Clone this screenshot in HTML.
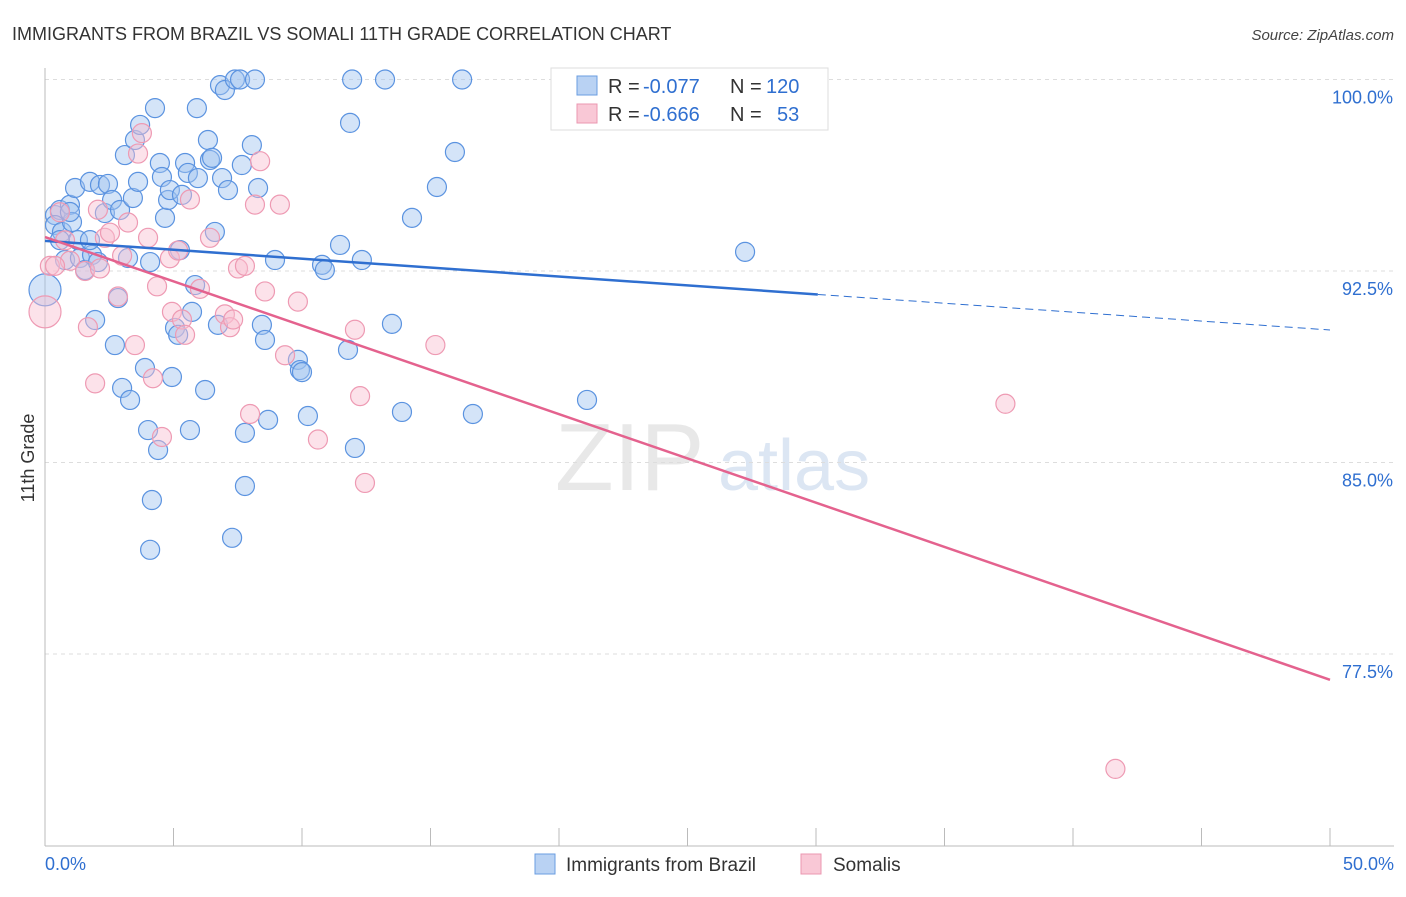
<!DOCTYPE html>
<html><head><meta charset="utf-8"><style>
body{margin:0;background:#fff;font-family:"Liberation Sans",sans-serif}
svg text{font-family:"Liberation Sans",sans-serif}
</style></head><body>
<svg id="chart" width="1406" height="892" viewBox="0 0 1406 892" xmlns="http://www.w3.org/2000/svg">
<text x="12" y="40" font-size="18" fill="#333">IMMIGRANTS FROM BRAZIL VS SOMALI 11TH GRADE CORRELATION CHART</text>
<text x="1394" y="40" font-size="15" fill="#444" text-anchor="end" font-style="italic">Source: ZipAtlas.com</text>
<text x="555" y="490" font-size="96" fill="#e8e8e8" font-family="Liberation Serif">ZIP</text>
<text x="718" y="490" font-size="72" fill="#dce6f3">atlas</text>
<g id="grid"></g><g id="axes"></g><g id="pts"></g><g id="lines"></g>
<text transform="translate(34,458) rotate(-90)" font-size="18" fill="#333" text-anchor="middle">11th Grade</text>
<g>
<rect x="551" y="68" width="277" height="62" fill="#fff" stroke="#ddd"/>
<rect x="577" y="76" width="20" height="19" fill="#b9d2f3" stroke="#6a9de0"/>
<rect x="577" y="104" width="20" height="19" fill="#f9c8d6" stroke="#eb97b0"/>
<text x="608" y="93" font-size="20" fill="#333">R =</text>
<text x="643" y="93" font-size="20" fill="#2f6fd0">-0.077</text>
<text x="730" y="93" font-size="20" fill="#333">N =</text>
<text x="766" y="93" font-size="20" fill="#2f6fd0">120</text>
<text x="608" y="121" font-size="20" fill="#333">R =</text>
<text x="643" y="121" font-size="20" fill="#2f6fd0">-0.666</text>
<text x="730" y="121" font-size="20" fill="#333">N =</text>
<text x="777" y="121" font-size="20" fill="#2f6fd0">53</text>
</g>
<g>
<rect x="535" y="854" width="20" height="20" fill="#b9d2f3" stroke="#6a9de0"/>
<text x="566" y="871" font-size="19" fill="#333">Immigrants from Brazil</text>
<rect x="801" y="854" width="20" height="20" fill="#f9c8d6" stroke="#eb97b0"/>
<text x="833" y="871" font-size="19" fill="#333">Somalis</text>
</g>
</svg>
<script>
const yTicks=[100,92.5,85,77.5];
const yTickLabels=["100.0%","92.5%","85.0%","77.5%"];
const xTickLabels=["0.0%","50.0%"];
const blueX=[0,0.39,0.58,0.39,0.66,0.97,0.78,1.17,1.05,1.28,1.36,1.56,1.75,1.83,1.95,2.14,2.06,2.33,2.45,2.61,2.72,2.84,2.92,3.00,3.11,3.23,3.31,3.42,3.50,3.62,3.70,3.89,4.01,4.09,4.16,4.09,4.28,4.40,4.47,4.55,4.67,4.79,4.86,4.94,5.06,5.18,5.25,5.33,5.45,5.56,5.64,5.72,5.84,5.91,5.95,6.23,6.34,6.42,6.50,6.61,6.73,6.81,7.00,6.89,7.12,7.28,7.39,7.59,7.66,7.78,7.78,8.05,8.17,8.29,8.44,8.56,8.68,8.95,9.84,9.92,10.00,10.23,10.78,10.89,11.48,11.79,11.95,11.87,12.06,12.33,13.23,13.50,13.89,14.28,15.25,15.95,16.23,16.65,21.09,27.24,1.75,0.58,0.97];
const blueY=[91.76,94.69,94.89,94.30,94.03,95.09,92.93,95.75,94.42,93.71,93.01,92.54,95.99,93.13,90.58,95.87,92.85,94.77,95.91,95.28,89.60,91.44,94.89,87.92,97.04,93.01,87.45,95.36,97.63,95.99,98.22,88.70,86.27,92.85,83.53,81.58,98.88,85.49,96.73,96.18,94.58,95.28,95.67,88.35,90.27,90.00,93.32,95.48,96.73,96.34,86.27,90.90,91.95,98.88,96.14,87.84,97.63,96.85,96.93,94.03,90.39,99.78,99.59,96.14,95.67,82.05,100,100,96.65,86.16,84.08,97.43,100,95.75,90.39,89.80,86.67,92.93,89.02,88.62,88.54,86.82,92.74,92.54,93.52,89.41,100,98.30,85.57,92.93,100,90.43,86.98,94.58,95.79,97.16,100,86.90,87.45,93.25,93.71,93.71,94.81];
const pinkX=[0,0.19,0.58,0.78,0.97,1.56,1.67,1.95,2.06,2.33,2.53,2.84,3.0,3.23,3.50,3.62,3.77,4.01,4.20,4.36,4.55,4.86,4.94,5.18,5.33,5.45,5.64,6.03,6.42,7.0,7.20,7.32,7.51,7.78,7.98,8.17,8.37,8.56,9.14,9.34,9.84,10.62,12.06,12.26,12.45,15.19,37.37,41.65,0.39,2.14];
const pinkY=[90.9,92.7,94.8,93.7,92.9,92.5,90.3,88.1,94.9,93.8,94.0,91.5,93.1,94.4,89.6,97.1,97.9,93.8,88.3,91.9,86.0,93.0,90.9,93.3,90.6,90.0,95.3,91.8,93.8,90.8,90.3,90.6,92.6,92.7,86.9,95.1,96.8,91.7,95.1,89.2,91.3,85.9,90.2,87.6,84.2,89.6,87.3,73.0,92.7,92.6];
const blueLine=[93.68,90.19], blueSolidEnd=30.07;
const pinkLine=[93.83,76.49];
const NS="http://www.w3.org/2000/svg";
const X=v=>45+v/50*1285;
const Y=v=>79.5+(100-v)/7.5*191.5;
function mk(t,a,p){const e=document.createElementNS(NS,t);for(const k in a)e.setAttribute(k,a[k]);p.appendChild(e);return e;}
const grid=document.getElementById('grid'),axes=document.getElementById('axes'),pts=document.getElementById('pts'),lines=document.getElementById('lines');
yTicks.forEach((v,i)=>{
 const l=mk('line',{x1:45,x2:1394,y1:Y(v),y2:Y(v),stroke:'#ddd','stroke-dasharray':'4,4'},grid);
 
 
 const t=mk('text',{x:1393,y:Y(v)+24,'font-size':18,fill:'#2f6fd0','text-anchor':'end'},axes);
 t.textContent=yTickLabels[i];
 
 
});
const ya=mk('line',{x1:45,x2:45,y1:68,y2:846,stroke:'#bbb'},axes);


const xa=mk('line',{x1:45,x2:1394,y1:846,y2:846,stroke:'#bbb'},axes);


for(let i=0;i<=10;i++){
 const k=mk('line',{x1:X(i*5),x2:X(i*5),y1:828,y2:846,stroke:'#bbb'},axes);
 
 
}
xTickLabels.forEach((s,i)=>{
 const t=mk('text',{x:i?1394:45,y:870,'font-size':18,fill:'#2f6fd0','text-anchor':i?'end':'start'},axes);
 t.textContent=s;
 
 
});
blueX.forEach((x,i)=>{
 const c=mk('circle',{cx:X(x),cy:Y(blueY[i]),r:i==0?16:9.5,fill:'rgba(160,195,240,0.45)',stroke:'#5b93e0','stroke-width':1.2},pts);
 
 
});
pinkX.forEach((x,i)=>{
 const c=mk('circle',{cx:X(x),cy:Y(pinkY[i]),r:i==0?16:9.5,fill:'rgba(248,190,208,0.45)',stroke:'#ee9ab3','stroke-width':1.2},pts);
 
 
});
const bl=v=>blueLine[0]+(blueLine[1]-blueLine[0])*v/50;
const b1=mk('line',{x1:X(0),y1:Y(bl(0)),x2:X(blueSolidEnd),y2:Y(bl(blueSolidEnd)),stroke:'#2f6fd0','stroke-width':2.5},lines);


const b2=mk('line',{x1:X(blueSolidEnd),y1:Y(bl(blueSolidEnd)),x2:X(50),y2:Y(bl(50)),stroke:'#2f6fd0','stroke-width':1,'stroke-dasharray':'8,5'},lines);


const p1=mk('line',{x1:X(0),y1:Y(pinkLine[0]),x2:X(50),y2:Y(pinkLine[1]),stroke:'#e4628e','stroke-width':2.5},lines);


</script>
</body></html>
